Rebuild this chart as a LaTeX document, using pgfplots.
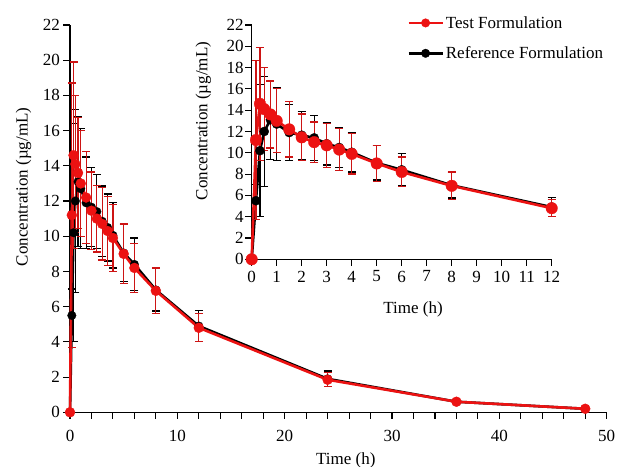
\documentclass[border=0pt]{standalone}
\usepackage{pgfplots}
\pgfplotsset{compat=1.18}
\usepackage{pgfplotstable}
\usepackage{fontspec}
\setmainfont{Liberation Serif}
\definecolor{tred}{RGB}{236,18,18}
\definecolor{ered}{RGB}{205,20,20}

% time (h), mean concentration, SD
\pgfplotstableread{
t y e
0 0 0
0.17 11.2 7.5
0.33 14.6 5.3
0.5 14.1 3.9
0.75 13.6 3.15
1 13.0 3.0
1.5 12.2 2.6
2 11.45 2.2
2.5 11.0 1.9
3 10.7 2.05
3.5 10.3 1.95
4 9.9 1.9
5 9.0 1.7
6 8.2 1.4
8 6.9 1.3
12 4.8 0.8
24 1.85 0.4
36 0.6 0.1
48 0.2 0.05
}\testdata

\pgfplotstableread{
t y e
0 0 0
0.17 5.5 1.5
0.33 10.2 6.2
0.5 12.0 5.2
0.75 13.1 3.7
1 12.7 3.4
1.5 11.9 2.6
2 11.65 2.25
2.5 11.4 2.1
3 10.85 2.0
3.5 10.5 1.9
4 10.05 1.85
5 9.05 1.6
6 8.4 1.5
8 6.95 1.2
12 4.9 0.9
24 1.9 0.45
36 0.6 0.1
48 0.2 0.05
}\refdata

\newcommand{\fs}{\fontsize{17bp}{20bp}\selectfont}

\pgfplotsset{
  pk/.style={
    scale only axis, clip=false,
    axis x line=bottom, axis y line=left,
    axis line style={-, line width=1.2bp},
    tick align=outside,
    major tick length=6.5bp, minor tick length=6.5bp,
    every tick/.style={line width=1.1bp, black},
    ymin=0, ymax=22, ytick={0,2,...,22},
    tick label style={font=\fs},
    label style={font=\fs},
    /pgf/number format/assume math mode=true,
  },
  refline/.style={black, line width=2.6bp, line join=round, mark=*, mark size=#1,
    mark options={line width=0.3bp},
    error bars/.cd, y dir=both, y explicit,
    error bar style={line width=1.2bp, black},
    error mark options={rotate=90, line width=1.2bp, mark size=4bp, black},
    /pgfplots/.cd},
  testline/.style={tred, line width=2.6bp, line join=round, mark=*, mark size=#1,
    mark options={line width=0.3bp},
    error bars/.cd, y dir=both, y explicit,
    error bar style={line width=1.2bp, ered},
    error mark options={rotate=90, line width=1.2bp, mark size=4bp, ered},
    /pgfplots/.cd},
}

\begin{document}
\begin{tikzpicture}
\path[use as bounding box] (0,0) rectangle (617bp,467bp);

% main plot
\begin{axis}[pk,
  at={(70bp,54.7bp)}, anchor=south west,
  width=536.7bp, height=387.3bp,
  xmin=0, xmax=50, xtick={0,10,...,50}, minor xtick={2,4,...,48},
  xticklabel style={yshift=-7.5bp},
  xlabel={Time (h)}, ylabel={Concentration (µg/mL)},
  xlabel style={at={(axis description cs:0.514,-0.123)}, anchor=center},
  ylabel style={at={(axis description cs:-0.0866,0.582)}, anchor=center},
]
\addplot[refline=4.3bp] table[x=t, y=y, y error=e] {\refdata};
\addplot[testline=5bp] table[x=t, y=y, y error=e] {\testdata};
\end{axis}

% inset
\begin{axis}[pk,
  at={(251.7bp,207.7bp)}, anchor=south west,
  width=300bp, height=234.3bp,
  xmin=0, xmax=12, xtick={0,1,...,12},
  xticklabel style={yshift=-1.5bp},
  yticklabel style={xshift=2bp},
  xlabel={Time (h)}, ylabel={Concentration (µg/mL)},
  xlabel style={at={(axis description cs:0.538,-0.216)}, anchor=center},
  ylabel style={at={(axis description cs:-0.161,0.59)}, anchor=center},
  legend style={at={(0.508,1.055)}, anchor=north west, draw=none, fill=none,
    font=\fs, row sep=13bp, cells={anchor=west}},
  legend image code/.code={\draw[#1, mark repeat=2, mark phase=2]
    plot coordinates {(0bp,0bp) (17bp,0bp) (34bp,0bp)};},
]
\addlegendimage{tred, line width=2.6bp, mark=*, mark size=4.3bp, mark options={line width=0.3bp}}
\addlegendentry{Test Formulation}
\addlegendimage{black, line width=2.6bp, mark=*, mark size=4.3bp, mark options={line width=0.3bp}}
\addlegendentry{Reference Formulation}
\addplot[forget plot, restrict x to domain=0:12, refline=4.6bp] table[x=t, y=y, y error=e] {\refdata};
\addplot[forget plot, restrict x to domain=0:12, testline=5.8bp] table[x=t, y=y, y error=e] {\testdata};
\end{axis}
\end{tikzpicture}
\end{document}
